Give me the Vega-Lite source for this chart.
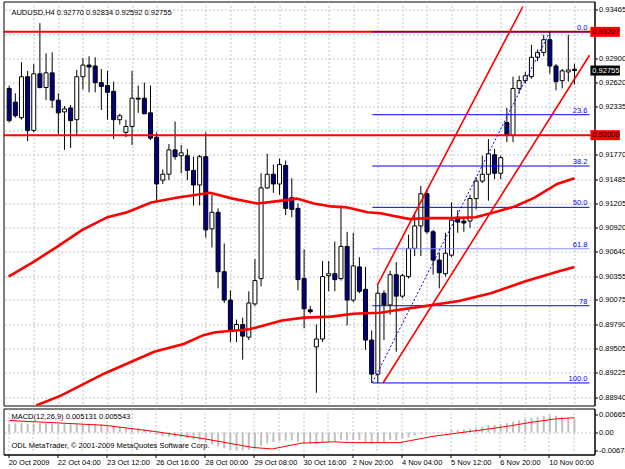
{
  "$schema": "https://vega.github.io/schema/vega-lite/v6.json",
  "autosize": "pad",
  "padding": {"left": 1.5, "top": 0.5, "right": 0, "bottom": 0},
  "background": "white",
  "spacing": 3,
  "bounds": "flush",
  "config": {
    "view": {"stroke": "#000", "strokeWidth": 1},
    "axis": {"labelFont": "Liberation Sans", "labelFontSize": 7.5, "labelColor": "#000", "domainColor": "#000", "tickColor": "#000", "gridColor": "#c4c4c4", "gridDash": [2, 2], "labelOverlap": false, "labelFlush": false},
    "text": {"font": "Liberation Sans", "fontSize": 7.5}
  },
  "datasets": {
    "bars": [
      {"i":0,"o":0.92546,"h":0.92580,"l":0.92147,"c":0.92170},
      {"i":1,"o":0.92386,"h":0.92489,"l":0.92204,"c":0.92227},
      {"i":2,"o":0.92204,"h":0.92853,"l":0.92181,"c":0.92683},
      {"i":3,"o":0.92683,"h":0.92751,"l":0.91931,"c":0.92056},
      {"i":4,"o":0.92056,"h":0.92831,"l":0.92033,"c":0.92717},
      {"i":5,"o":0.92717,"h":0.93309,"l":0.92546,"c":0.92557},
      {"i":6,"o":0.92557,"h":0.92956,"l":0.92409,"c":0.92728},
      {"i":7,"o":0.92728,"h":0.92967,"l":0.92318,"c":0.92409},
      {"i":8,"o":0.92409,"h":0.92489,"l":0.92011,"c":0.92261},
      {"i":9,"o":0.92272,"h":0.92341,"l":0.91828,"c":0.92307},
      {"i":10,"o":0.92318,"h":0.92352,"l":0.91851,"c":0.92170},
      {"i":11,"o":0.92181,"h":0.92762,"l":0.91999,"c":0.92683},
      {"i":12,"o":0.92683,"h":0.92899,"l":0.92534,"c":0.92819},
      {"i":13,"o":0.92819,"h":0.92922,"l":0.92500,"c":0.92796},
      {"i":14,"o":0.92808,"h":0.92910,"l":0.92500,"c":0.92614},
      {"i":15,"o":0.92614,"h":0.92774,"l":0.92295,"c":0.92569},
      {"i":16,"o":0.92580,"h":0.92751,"l":0.92181,"c":0.92500},
      {"i":17,"o":0.92512,"h":0.92626,"l":0.91954,"c":0.92181},
      {"i":18,"o":0.92181,"h":0.92250,"l":0.92124,"c":0.92227},
      {"i":19,"o":0.92033,"h":0.92181,"l":0.91976,"c":0.92102},
      {"i":20,"o":0.92102,"h":0.92751,"l":0.91885,"c":0.92432},
      {"i":21,"o":0.92432,"h":0.92580,"l":0.92261,"c":0.92421},
      {"i":22,"o":0.92432,"h":0.92614,"l":0.92250,"c":0.92250},
      {"i":23,"o":0.92261,"h":0.92580,"l":0.91942,"c":0.91965},
      {"i":24,"o":0.91976,"h":0.92033,"l":0.91236,"c":0.91430},
      {"i":25,"o":0.91475,"h":0.91600,"l":0.91430,"c":0.91544},
      {"i":26,"o":0.91544,"h":0.91897,"l":0.91475,"c":0.91828},
      {"i":27,"o":0.91828,"h":0.92159,"l":0.91714,"c":0.91749},
      {"i":28,"o":0.91760,"h":0.91885,"l":0.91555,"c":0.91794},
      {"i":29,"o":0.91760,"h":0.91840,"l":0.91475,"c":0.91589},
      {"i":30,"o":0.91589,"h":0.91749,"l":0.91179,"c":0.91418},
      {"i":31,"o":0.91418,"h":0.91771,"l":0.91179,"c":0.91749},
      {"i":32,"o":0.91749,"h":0.92033,"l":0.90803,"c":0.90894},
      {"i":33,"o":0.90906,"h":0.91304,"l":0.90689,"c":0.91099},
      {"i":34,"o":0.91099,"h":0.91145,"l":0.90211,"c":0.90405},
      {"i":35,"o":0.90405,"h":0.90735,"l":0.90040,"c":0.90074},
      {"i":36,"o":0.90074,"h":0.90188,"l":0.89584,"c":0.89721},
      {"i":37,"o":0.89721,"h":0.89846,"l":0.89584,"c":0.89789},
      {"i":38,"o":0.89789,"h":0.89869,"l":0.89379,"c":0.89653},
      {"i":39,"o":0.89641,"h":0.90177,"l":0.89607,"c":0.90040},
      {"i":40,"o":0.90029,"h":0.90553,"l":0.90006,"c":0.90302},
      {"i":41,"o":0.90325,"h":0.91555,"l":0.90234,"c":0.91384},
      {"i":42,"o":0.91384,"h":0.91783,"l":0.91373,"c":0.91544},
      {"i":43,"o":0.91544,"h":0.91657,"l":0.91327,"c":0.91430},
      {"i":44,"o":0.91430,"h":0.91726,"l":0.91304,"c":0.91657},
      {"i":45,"o":0.91646,"h":0.91703,"l":0.91065,"c":0.91145},
      {"i":46,"o":0.91270,"h":0.91498,"l":0.91042,"c":0.91133},
      {"i":47,"o":0.91145,"h":0.91202,"l":0.90188,"c":0.90313},
      {"i":48,"o":0.90325,"h":0.90666,"l":0.89744,"c":0.89972},
      {"i":49,"o":0.89960,"h":0.90006,"l":0.89915,"c":0.89938},
      {"i":50,"o":0.89527,"h":0.89789,"l":0.88992,"c":0.89619},
      {"i":51,"o":0.89619,"h":0.90530,"l":0.89584,"c":0.90348},
      {"i":52,"o":0.90359,"h":0.90530,"l":0.90177,"c":0.90382},
      {"i":53,"o":0.90382,"h":0.90758,"l":0.90177,"c":0.90313},
      {"i":54,"o":0.90325,"h":0.91179,"l":0.90302,"c":0.90701},
      {"i":55,"o":0.90701,"h":0.90872,"l":0.89778,"c":0.90074},
      {"i":56,"o":0.90074,"h":0.90860,"l":0.90051,"c":0.90473},
      {"i":57,"o":0.90461,"h":0.90575,"l":0.90154,"c":0.90177},
      {"i":58,"o":0.90200,"h":0.90461,"l":0.89493,"c":0.89607},
      {"i":59,"o":0.89607,"h":0.89721,"l":0.89106,"c":0.89209},
      {"i":60,"o":0.89209,"h":0.90245,"l":0.89106,"c":0.90154},
      {"i":61,"o":0.90154,"h":0.90188,"l":0.89607,"c":0.90017},
      {"i":62,"o":0.90017,"h":0.90416,"l":0.89903,"c":0.90370},
      {"i":63,"o":0.90370,"h":0.90518,"l":0.89471,"c":0.90120},
      {"i":64,"o":0.90120,"h":0.90382,"l":0.90097,"c":0.90359},
      {"i":65,"o":0.90348,"h":0.90837,"l":0.90325,"c":0.90678},
      {"i":66,"o":0.90678,"h":0.91099,"l":0.90587,"c":0.90940},
      {"i":67,"o":0.90940,"h":0.91407,"l":0.90587,"c":0.91316},
      {"i":68,"o":0.91316,"h":0.91373,"l":0.90849,"c":0.90872},
      {"i":69,"o":0.90872,"h":0.90894,"l":0.90370,"c":0.90541},
      {"i":70,"o":0.90541,"h":0.90632,"l":0.90211,"c":0.90393},
      {"i":71,"o":0.90382,"h":0.90860,"l":0.90348,"c":0.90621},
      {"i":72,"o":0.90598,"h":0.91213,"l":0.90575,"c":0.91008},
      {"i":73,"o":0.91042,"h":0.91122,"l":0.90860,"c":0.90985},
      {"i":74,"o":0.90997,"h":0.91042,"l":0.90872,"c":0.90974},
      {"i":75,"o":0.90997,"h":0.91304,"l":0.90917,"c":0.91259},
      {"i":76,"o":0.91259,"h":0.91509,"l":0.91133,"c":0.91464},
      {"i":77,"o":0.91464,"h":0.91760,"l":0.91441,"c":0.91544},
      {"i":78,"o":0.91544,"h":0.91954,"l":0.91236,"c":0.91783},
      {"i":79,"o":0.91771,"h":0.91840,"l":0.91487,"c":0.91555},
      {"i":80,"o":0.91555,"h":0.91760,"l":0.91487,"c":0.91737},
      {"i":81,"o":0.92147,"h":0.92318,"l":0.91919,"c":0.91999},
      {"i":82,"o":0.91999,"h":0.92683,"l":0.91919,"c":0.92546},
      {"i":83,"o":0.92546,"h":0.92694,"l":0.92489,"c":0.92637},
      {"i":84,"o":0.92637,"h":0.92739,"l":0.92603,"c":0.92694},
      {"i":85,"o":0.92683,"h":0.93058,"l":0.92660,"c":0.92910},
      {"i":86,"o":0.92910,"h":0.93001,"l":0.92865,"c":0.92967},
      {"i":87,"o":0.92967,"h":0.93172,"l":0.92922,"c":0.93115},
      {"i":88,"o":0.93115,"h":0.93207,"l":0.92717,"c":0.92808},
      {"i":89,"o":0.92808,"h":0.92831,"l":0.92523,"c":0.92626},
      {"i":90,"o":0.92637,"h":0.92774,"l":0.92546,"c":0.92751},
      {"i":91,"o":0.92739,"h":0.93172,"l":0.92626,"c":0.92762},
      {"i":92,"o":0.92770,"h":0.92834,"l":0.92592,"c":0.92755}
    ],
    "ma": [
      {"s":"fast","i":-0.1,"p":0.90348},{"s":"fast","i":3.9,"p":0.90518},{"s":"fast","i":7.9,"p":0.90701},{"s":"fast","i":11.9,"p":0.90894},
      {"s":"fast","i":16.0,"p":0.91042},{"s":"fast","i":19.2,"p":0.91099},{"s":"fast","i":23.1,"p":0.91213},{"s":"fast","i":27.2,"p":0.91270},
      {"s":"fast","i":31.6,"p":0.91316},{"s":"fast","i":32.7,"p":0.91327},{"s":"fast","i":36.4,"p":0.91259},{"s":"fast","i":40.4,"p":0.91202},
      {"s":"fast","i":44.4,"p":0.91236},{"s":"fast","i":46.8,"p":0.91259},{"s":"fast","i":49.6,"p":0.91202},{"s":"fast","i":52.4,"p":0.91168},
      {"s":"fast","i":55.1,"p":0.91156},{"s":"fast","i":58.3,"p":0.91099},{"s":"fast","i":60.4,"p":0.91088},{"s":"fast","i":65.2,"p":0.91020},
      {"s":"fast","i":67.9,"p":0.91031},{"s":"fast","i":72.0,"p":0.91031},{"s":"fast","i":75.9,"p":0.91042},{"s":"fast","i":78.4,"p":0.91088},
      {"s":"fast","i":82.3,"p":0.91168},{"s":"fast","i":85.5,"p":0.91270},{"s":"fast","i":89.2,"p":0.91430},{"s":"fast","i":92.0,"p":0.91498},
      {"s":"slow","i":4.4,"p":0.88844},{"s":"slow","i":8.4,"p":0.88958},{"s":"slow","i":15.6,"p":0.89220},{"s":"slow","i":23.6,"p":0.89471},
      {"s":"slow","i":28.4,"p":0.89562},{"s":"slow","i":31.6,"p":0.89664},{"s":"slow","i":33.6,"p":0.89698},{"s":"slow","i":39.1,"p":0.89733},
      {"s":"slow","i":44.4,"p":0.89835},{"s":"slow","i":48.0,"p":0.89869},{"s":"slow","i":52.4,"p":0.89881},{"s":"slow","i":56.0,"p":0.89915},
      {"s":"slow","i":60.4,"p":0.89926},{"s":"slow","i":62.4,"p":0.89949},{"s":"slow","i":67.9,"p":0.90006},{"s":"slow","i":73.2,"p":0.90063},
      {"s":"slow","i":78.4,"p":0.90154},{"s":"slow","i":83.9,"p":0.90291},{"s":"slow","i":89.2,"p":0.90405},{"s":"slow","i":92.0,"p":0.90461}
    ],
    "trend": [
      {"s":"A","i":59.9,"p":0.90245},{"s":"A","i":83.6,"p":0.93503},
      {"s":"B","i":60.85,"p":0.89106},{"s":"B","i":94.45,"p":0.92933}
    ],
    "fibdiag": [
      {"i":59.1,"p":0.89106},{"i":88.0,"p":0.93207}
    ],
    "fib": [
      {"lv":"0.0","p":0.93207},{"lv":"23.6","p":0.92239},{"lv":"38.2","p":0.91640},{"lv":"50.0","p":0.91157},
      {"lv":"61.8","p":0.90673},{"lv":"78","p":0.90008},{"lv":"100.0","p":0.89106}
    ],
    "hlines": [{"p":0.93207},{"p":0.92000}],
    "tags": [
      {"p":0.93207,"label":"0.93207","kind":"line"},
      {"p":0.92000,"label":"0.92000","kind":"line"},
      {"p":0.92755,"label":"0.92755","kind":"bid"}
    ],
    "hist": [
      {"i":0,"v":0.0033},{"i":1,"v":0.0034},{"i":2,"v":0.0034},{"i":3,"v":0.0033},{"i":4,"v":0.0034},{"i":5,"v":0.0035},
      {"i":6,"v":0.0034},{"i":7,"v":0.0033},{"i":8,"v":0.0032},{"i":9,"v":0.0031},{"i":10,"v":0.0031},{"i":11,"v":0.0032},
      {"i":12,"v":0.0032},{"i":13,"v":0.0033},{"i":14,"v":0.0032},{"i":15,"v":0.0031},{"i":16,"v":0.0029},{"i":17,"v":0.0026},
      {"i":18,"v":0.0021},{"i":19,"v":0.0018},{"i":20,"v":0.0017},{"i":21,"v":0.0016},{"i":22,"v":0.0013},{"i":23,"v":0.0008},
      {"i":24,"v":-0.0008},{"i":25,"v":-0.0014},{"i":26,"v":-0.0016},{"i":27,"v":-0.0015},{"i":28,"v":-0.0017},{"i":29,"v":-0.002},
      {"i":30,"v":-0.0026},{"i":31,"v":-0.0028},{"i":32,"v":-0.0038},{"i":33,"v":-0.0045},{"i":34,"v":-0.0053},{"i":35,"v":-0.006},
      {"i":36,"v":-0.0065},{"i":37,"v":-0.00678},{"i":38,"v":-0.0067},{"i":39,"v":-0.0065},{"i":40,"v":-0.0061},{"i":41,"v":-0.005},
      {"i":42,"v":-0.0041},{"i":43,"v":-0.0036},{"i":44,"v":-0.0031},{"i":45,"v":-0.0031},{"i":46,"v":-0.003},{"i":47,"v":-0.0035},
      {"i":48,"v":-0.0042},{"i":49,"v":-0.0044},{"i":50,"v":-0.0044},{"i":51,"v":-0.0039},{"i":52,"v":-0.0036},{"i":53,"v":-0.0034},
      {"i":54,"v":-0.0028},{"i":55,"v":-0.003},{"i":56,"v":-0.0028},{"i":57,"v":-0.0028},{"i":58,"v":-0.0035},{"i":59,"v":-0.0043},
      {"i":60,"v":-0.0037},{"i":61,"v":-0.0035},{"i":62,"v":-0.0029},{"i":63,"v":-0.003},{"i":64,"v":-0.0024},{"i":65,"v":-0.0019},
      {"i":66,"v":-0.0012},{"i":67,"v":-0.0005},{"i":68,"v":-0.0003},{"i":69,"v":-0.0002},{"i":70,"v":-0.0002},{"i":71,"v":0.0003},
      {"i":72,"v":0.0008},{"i":73,"v":0.001},{"i":74,"v":0.0011},{"i":75,"v":0.0014},{"i":76,"v":0.0018},{"i":77,"v":0.0022},
      {"i":78,"v":0.0028},{"i":79,"v":0.0029},{"i":80,"v":0.0031},{"i":81,"v":0.0035},{"i":82,"v":0.0041},{"i":83,"v":0.0046},
      {"i":84,"v":0.005},{"i":85,"v":0.0055},{"i":86,"v":0.0059},{"i":87,"v":0.0063},{"i":88,"v":0.006657},{"i":89,"v":0.0063},
      {"i":90,"v":0.0059},{"i":91,"v":0.0055},{"i":92,"v":0.005131}
    ],
    "signal": [
      {"i":0,"v":0.0045},{"i":8,"v":0.0036},{"i":15.6,"v":0.0027},{"i":23.6,"v":0.0004},{"i":31.6,"v":-0.0023},
      {"i":39.6,"v":-0.0056},{"i":42.8,"v":-0.0062},{"i":47.6,"v":-0.004},{"i":52.9,"v":-0.0035},{"i":55.6,"v":-0.0038},
      {"i":63.6,"v":-0.0038},{"i":68.8,"v":-0.0015},{"i":72,"v":-0.0005},{"i":76.4,"v":0.0008},{"i":80.7,"v":0.0022},
      {"i":84.9,"v":0.0038},{"i":89.2,"v":0.0052},{"i":92,"v":0.005543}
    ],
    "notes": [
      {"text":"AUDUSD,H4  0.92770 0.92834 0.92592 0.92755"}
    ],
    "macdnotes": [
      {"text":"MACD(12,26,9) 0.005131 0.005543","v":0.006},
      {"text":"ODL MetaTrader, © 2001-2009 MetaQuotes Software Corp.","v":-0.00526}
    ]
  },
  "vconcat": [
    {
      "width": 591,
      "height": 404,
      "resolve": {"axis": {"x": "independent", "y": "independent"}},
      "layer": [
        {
          "data": {"name": "bars"},
          "mark": {"type": "rule", "color": "#000", "strokeWidth": 1},
          "encoding": {
            "x": {"field": "i", "type": "quantitative", "title": null,
                  "scale": {"domain": [-0.11, 94.45], "nice": false, "zero": false},
                  "axis": {"values": [4,8,12,16,20,24,28,32,36,40,44,48,52,56,60,64,68,72,76,80,84,88,92], "labels": false, "ticks": false, "domain": false, "grid": true}},
            "y": {"field": "l", "type": "quantitative", "title": null,
                  "scale": {"domain": [0.88901, 0.93503], "nice": false, "zero": false},
                  "axis": {"orient": "right", "values": [0.93465,0.9318,0.929,0.9262,0.92335,0.9205,0.9177,0.91485,0.91205,0.9092,0.9064,0.90355,0.90075,0.8979,0.89505,0.89225,0.8894], "format": ".5f", "grid": true, "tickSize": 3, "labelPadding": 1, "labelOverlap": false, "labelBound": false,
                           "labelOpacity": {"condition": {"test": "abs(datum.value - 0.9318) < 0.00001 || abs(datum.value - 0.9205) < 0.00001", "value": 0}, "value": 1}}},
            "y2": {"field": "h"}
          }
        },
        {
          "data": {"name": "bars"},
          "mark": {"type": "bar", "size": 4, "stroke": "#000", "strokeWidth": 1},
          "encoding": {
            "x": {"field": "i", "type": "quantitative", "axis": null},
            "y": {"field": "o", "type": "quantitative", "axis": null},
            "y2": {"field": "c"},
            "fill": {"condition": {"test": "datum.c >= datum.o", "value": "#ffffff"}, "value": "#000080"}
          }
        },
        {
          "data": {"name": "hlines"},
          "mark": {"type": "rule", "color": "#ff0000", "strokeWidth": 2},
          "encoding": {"y": {"field": "p", "type": "quantitative", "axis": null}}
        },
        {
          "data": {"name": "fib"},
          "mark": {"type": "rule", "strokeWidth": 1},
          "encoding": {
            "x": {"datum": 59.1, "type": "quantitative", "axis": null},
            "x2": {"datum": 94.45},
            "y": {"field": "p", "type": "quantitative", "axis": null},
            "color": {"condition": {"test": "datum.lv == '61.8'", "value": "#8c8cff"}, "value": "#0000ff"},
            "strokeWidth": {"condition": {"test": "datum.lv == '61.8'", "value": 2}, "value": 1}
          }
        },
        {
          "data": {"name": "fib"},
          "mark": {"type": "text", "align": "right", "baseline": "alphabetic", "dy": -2, "color": "#0000ff", "fontSize": 7.5},
          "encoding": {
            "x": {"datum": 94.1, "type": "quantitative", "axis": null},
            "y": {"field": "p", "type": "quantitative", "axis": null},
            "text": {"field": "lv"}
          }
        },
        {
          "data": {"name": "fibdiag"},
          "mark": {"type": "line", "color": "#0000ff", "strokeWidth": 1, "strokeDash": [2, 2]},
          "encoding": {
            "x": {"field": "i", "type": "quantitative", "axis": null},
            "y": {"field": "p", "type": "quantitative", "axis": null}
          }
        },
        {
          "data": {"name": "ma"},
          "mark": {"type": "line", "color": "#ff0000", "strokeWidth": 2.6, "clip": true},
          "encoding": {
            "x": {"field": "i", "type": "quantitative", "axis": null},
            "y": {"field": "p", "type": "quantitative", "axis": null},
            "detail": {"field": "s"}
          }
        },
        {
          "data": {"name": "trend"},
          "mark": {"type": "line", "color": "#ff0000", "strokeWidth": 1.6, "clip": true},
          "encoding": {
            "x": {"field": "i", "type": "quantitative", "axis": null},
            "y": {"field": "p", "type": "quantitative", "axis": null},
            "detail": {"field": "s"}
          }
        },
        {
          "data": {"name": "notes"},
          "mark": {"type": "text", "align": "left", "baseline": "middle", "color": "#000"},
          "encoding": {
            "x": {"datum": 0.37, "type": "quantitative", "axis": null},
            "y": {"datum": 0.93423, "type": "quantitative", "axis": null},
            "text": {"field": "text"}
          }
        },
        {
          "data": {"name": "tags"},
          "mark": {"type": "bar", "size": 10},
          "encoding": {
            "x": {"datum": 94.6, "type": "quantitative", "axis": null},
            "x2": {"datum": 99.4},
            "y": {"field": "p", "type": "quantitative", "axis": null},
            "color": {"condition": {"test": "datum.kind == 'bid'", "value": "#000000"}, "value": "#ff0000"}
          }
        },
        {
          "data": {"name": "tags"},
          "mark": {"type": "text", "align": "left", "baseline": "middle", "dx": 1},
          "encoding": {
            "x": {"datum": 94.75, "type": "quantitative", "axis": null},
            "y": {"field": "p", "type": "quantitative", "axis": null},
            "text": {"field": "label"},
            "color": {"condition": {"test": "datum.kind == 'bid'", "value": "#ffffff"}, "value": "#000000"}
          }
        }
      ]
    },
    {
      "width": 591,
      "height": 46,
      "resolve": {"axis": {"x": "independent", "y": "independent"}},
      "layer": [
        {
          "data": {"name": "hist"},
          "mark": {"type": "bar", "size": 2, "color": "#c0c0c0"},
          "encoding": {
            "x": {"field": "i", "type": "quantitative", "title": null,
                  "scale": {"domain": [-0.11, 94.45], "nice": false, "zero": false},
                  "axis": {"values": [0,4,8,12,16,20,24,28,32,36,40,44,48,52,56,60,64,68,72,76,80,84,88,92], "grid": true,
                           "labelExpr": "datum.value % 8 == 0 ? ['20 Oct 2009','22 Oct 04:00','23 Oct 12:00','26 Oct 16:00','28 Oct 00:00','29 Oct 08:00','30 Oct 16:00','2 Nov 20:00','4 Nov 04:00','5 Nov 12:00','6 Nov 20:00','10 Nov 00:00'][datum.value / 8] : ''",
                           "tickSize": 3, "tickOffset": -1, "tickOpacity": {"condition": {"test": "datum.value % 8 == 0", "value": 1}, "value": 0},
                           "labelAlign": "left", "labelBaseline": "top", "labelPadding": 1, "labelDx": 0, "domain": true, "labelOverlap": false, "labelBound": false, "labelFlush": false}},
            "y": {"field": "v", "type": "quantitative", "title": null,
                  "scale": {"domain": [-0.00827, 0.009023], "nice": false, "zero": false},
                  "axis": {"orient": "right", "values": [0.006657, 0, -0.00678], "grid": true,
                           "gridOpacity": {"condition": {"test": "datum.value == 0", "value": 1}, "value": 0},
                           "labelExpr": "datum.value == 0 ? '0.00' : (datum.value > 0 ? '0.006657' : '-0.00678')",
                           "tickSize": 3, "labelPadding": 1, "labelOverlap": false}},
            "y2": {"datum": 0}
          }
        },
        {
          "data": {"name": "signal"},
          "mark": {"type": "line", "color": "#ff0000", "strokeWidth": 1},
          "encoding": {
            "x": {"field": "i", "type": "quantitative", "axis": null},
            "y": {"field": "v", "type": "quantitative", "axis": null}
          }
        },
        {
          "data": {"name": "macdnotes"},
          "mark": {"type": "text", "align": "left", "baseline": "middle", "color": "#000"},
          "encoding": {
            "x": {"datum": 0.37, "type": "quantitative", "axis": null},
            "y": {"field": "v", "type": "quantitative", "axis": null},
            "text": {"field": "text"}
          }
        }
      ]
    }
  ]
}
